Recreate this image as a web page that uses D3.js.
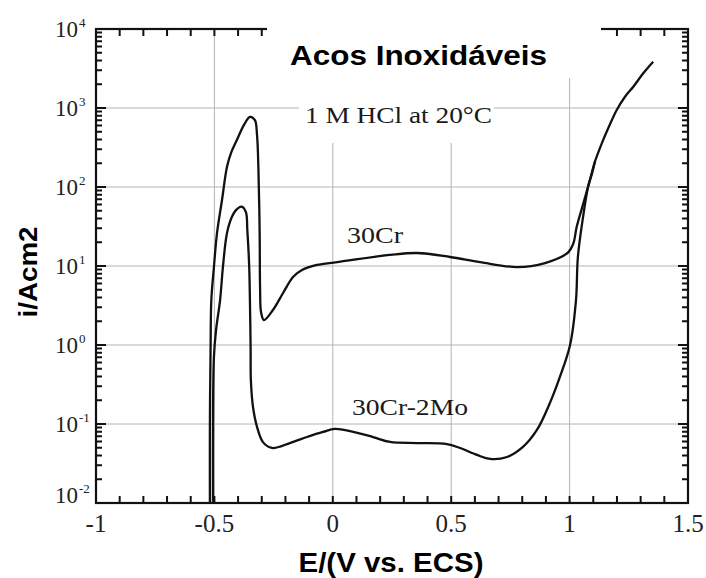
<!DOCTYPE html>
<html>
<head>
<meta charset="utf-8">
<script src="https://cdn.jsdelivr.net/npm/d3@7"></script>
<style>
  body { margin: 0; background: #fff; }
  svg { display: block; }
</style>
</head>
<body>
<svg id="chart"></svg>
<script>
// potential (V vs. ECS) and current density
const e30Cr = [-0.519, -0.519, -0.516, -0.513, -0.502, -0.489, -0.468, -0.447, -0.430, -0.405, -0.375, -0.350, -0.329, -0.320, -0.314, -0.309, -0.307, -0.303, -0.291, -0.253, -0.210, -0.168, -0.130, -0.067, 0.018, 0.242, 0.356, 0.495, 0.622, 0.778, 0.896, 0.993, 1.016, 1.030, 1.058, 1.086, 1.107, 1.136, 1.163, 1.199, 1.234, 1.269, 1.311, 1.353];
const i30Cr = [0.01, 0.1, 1.0, 3.7, 9.7, 26, 68, 179, 269, 394, 610, 770, 700, 455, 164, 28, 5.0, 2.6, 2.07, 2.77, 4.55, 7.26, 8.9, 10.3, 11.2, 13.8, 14.6, 13.0, 11.2, 9.7, 10.9, 14.8, 19.4, 31.4, 62, 123, 209, 357, 553, 944, 1390, 1860, 2750, 3850];

const e30CrMo = [-0.506, -0.506, -0.502, -0.493, -0.476, -0.464, -0.447, -0.426, -0.409, -0.385, -0.367, -0.361, -0.353, -0.350, -0.347, -0.346, -0.337, -0.320, -0.295, -0.257, -0.181, -0.109, -0.041, 0.009, 0.073, 0.170, 0.242, 0.356, 0.482, 0.537, 0.609, 0.664, 0.736, 0.803, 0.862, 0.917, 0.959, 1.002, 1.027, 1.035, 1.057, 1.078, 1.095, 1.107];
const i30CrMo = [0.01, 0.1, 0.7, 1.55, 3.7, 9.7, 26, 42, 51, 56.4, 48, 28.6, 9.7, 3.7, 0.9, 0.36, 0.164, 0.092, 0.059, 0.0497, 0.0574, 0.0684, 0.0793, 0.0865, 0.0815, 0.0684, 0.0592, 0.0574, 0.0558, 0.0497, 0.0406, 0.0361, 0.0382, 0.0512, 0.084, 0.185, 0.394, 1.0, 3.7, 13, 42, 100, 150, 209];

const xTickLabels = [-1, -0.5, 0, 0.5, 1, 1.5];
const yTickExps = [-2, -1, 0, 1, 2, 3, 4];
const xGrid = [-0.5, 0, 0.5, 1];
const yGridExps = [-1, 0, 1, 2, 3];

const width = 706, height = 578;
const margin = { top: 29, right: 18, bottom: 75, left: 96 };
const serif = "'Liberation Serif', 'Times New Roman', serif";
const sans = "'Liberation Sans', Arial, sans-serif";

const svg = d3.select("#chart").attr("width", width).attr("height", height);

const x = d3.scaleLinear().domain([-1, 1.5]).range([margin.left, width - margin.right]);
const y = d3.scaleLog().domain([0.01, 1e4]).range([height - margin.bottom, margin.top]);
const [x0, x1] = x.range();
const [yb, yt] = y.range();

// grid
const grid = svg.append("g").attr("stroke", "#b4b4b4").attr("stroke-width", 1);
grid.selectAll(".gx").data(xGrid).join("line")
  .attr("x1", d => x(d)).attr("x2", d => x(d))
  .attr("y1", yt).attr("y2", yb);
grid.selectAll(".gy").data(yGridExps).join("line")
  .attr("x1", x0).attr("x2", x1)
  .attr("y1", d => y(Math.pow(10, d))).attr("y2", d => y(Math.pow(10, d)));

// ticks, all pointing into the plot
const minorX = d3.range(-10, 16).map(d => d / 10);
const minorY = [];
yTickExps.forEach(e => {
  for (let k = 2; k < 10; k++) {
    const v = k * Math.pow(10, e);
    if (v < 1e4) minorY.push(v);
  }
});
const majorY = yTickExps.map(e => Math.pow(10, e));

const tickPaths = [];
minorX.forEach(v => {
  tickPaths.push(`M${x(v)},${yb}v-7`);
  tickPaths.push(`M${x(v)},${yt}v7`);
});
minorY.forEach(v => {
  tickPaths.push(`M${x0},${y(v)}h6`);
  tickPaths.push(`M${x1},${y(v)}h-6`);
});
majorY.forEach(v => {
  tickPaths.push(`M${x0},${y(v)}h10`);
  tickPaths.push(`M${x1},${y(v)}h-10`);
});
svg.append("path")
  .attr("d", tickPaths.join(""))
  .attr("fill", "none").attr("stroke", "#111").attr("stroke-width", 2);

svg.append("rect")
  .attr("x", x0).attr("y", yt).attr("width", x1 - x0).attr("height", yb - yt)
  .attr("fill", "none").attr("stroke", "#111").attr("stroke-width", 2.2);

// x tick labels
svg.append("g").selectAll("text").data(xTickLabels).join("text")
  .attr("x", d => x(d)).attr("y", yb + 29)
  .attr("text-anchor", "middle")
  .attr("font-family", serif).attr("font-size", 25)
  .attr("fill", "#222")
  .text(d => d);

// y tick labels 10^n
const yl = svg.append("g").attr("font-family", serif).attr("fill", "#222");
yl.selectAll(".base").data(yTickExps).join("text")
  .attr("x", 78)
  .attr("y", d => Math.min(y(Math.pow(10, d)) + 8, yb))
  .attr("text-anchor", "end").attr("font-size", 23)
  .text("10");
yl.selectAll(".exp").data(yTickExps).join("text")
  .attr("x", 79)
  .attr("y", d => Math.min(y(Math.pow(10, d)) + 8, yb) - 10)
  .attr("font-size", 13)
  .text(d => d);

// white patches from the original figure
svg.append("rect").attr("x", 267).attr("y", 21).attr("width", 334).attr("height", 57).attr("fill", "#fff");
svg.append("rect").attr("x", 299).attr("y", 78).attr("width", 195).attr("height", 65).attr("fill", "#fff");

svg.append("text")
  .attr("x", 290).attr("y", 65)
  .attr("font-family", sans).attr("font-weight", "bold").attr("font-size", 28)
  .attr("textLength", 257).attr("lengthAdjust", "spacingAndGlyphs")
  .text("Acos Inoxidáveis");

const notes = [
  { text: "1 M HCl at 20°C", x: 305, y: 123, len: 187 },
  { text: "30Cr", x: 347, y: 243, len: 56 },
  { text: "30Cr-2Mo", x: 352, y: 415, len: 116 }
];
svg.append("g").selectAll("text").data(notes).join("text")
  .attr("x", d => d.x).attr("y", d => d.y)
  .attr("font-family", serif).attr("font-size", 24).attr("fill", "#1a1a1a")
  .attr("textLength", d => d.len).attr("lengthAdjust", "spacingAndGlyphs")
  .text(d => d.text);

// curves
const line = d3.line()
  .x(d => x(d[0]))
  .y(d => y(d[1]))
  .curve(d3.curveCatmullRom.alpha(0.5));

const series = [
  d3.zip(e30Cr, i30Cr),
  d3.zip(e30CrMo, i30CrMo)
];
svg.append("g").selectAll("path").data(series).join("path")
  .attr("d", line)
  .attr("fill", "none")
  .attr("stroke", "#111")
  .attr("stroke-width", 2.3)
  .attr("stroke-linejoin", "round");

// axis titles
svg.append("text")
  .attr("x", 391).attr("y", 572)
  .attr("text-anchor", "middle")
  .attr("font-family", sans).attr("font-weight", "bold").attr("font-size", 27)
  .attr("textLength", 185).attr("lengthAdjust", "spacingAndGlyphs")
  .text("E/(V vs. ECS)");

svg.append("text")
  .attr("transform", "translate(37,272) rotate(-90)")
  .attr("text-anchor", "middle")
  .attr("font-family", sans).attr("font-weight", "bold").attr("font-size", 25)
  .attr("textLength", 91).attr("lengthAdjust", "spacingAndGlyphs")
  .text("i/Acm2");
</script>
</body>
</html>
